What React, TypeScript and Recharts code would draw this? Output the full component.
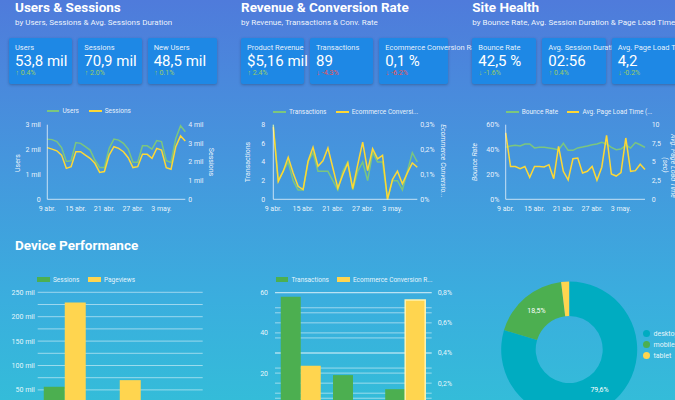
import React from 'react'
import {
  Bar,
  BarChart,
  CartesianGrid,
  Cell,
  Line,
  LineChart,
  Pie,
  PieChart,
  XAxis,
  YAxis,
} from 'recharts'

const FONT = 'Roboto, "Noto Sans", sans-serif'
const LINE_GREEN = '#7cc67e'
const LINE_YELLOW = '#fdd835'
const BAR_GREEN = '#4caf50'
const BAR_YELLOW = '#ffd54f'
const TEAL = '#00acc1'
const TXT = 'rgba(255,255,255,0.9)'
const AXIS = 'rgba(255,255,255,0.7)'
const GRID = 'rgba(255,255,255,0.5)'

// daily series, 9 abr. - 8 may.
const days = [
  '9 abr.', '10 abr.', '11 abr.', '12 abr.', '13 abr.', '14 abr.', '15 abr.', '16 abr.',
  '17 abr.', '18 abr.', '19 abr.', '20 abr.', '21 abr.', '22 abr.', '23 abr.', '24 abr.',
  '25 abr.', '26 abr.', '27 abr.', '28 abr.', '29 abr.', '30 abr.', '1 may.', '2 may.',
  '3 may.', '4 may.', '5 may.', '6 may.', '7 may.', '8 may.',
]
const users = [
  2420, 2400, 2320, 2080, 1520, 1550, 2280, 2250, 2120, 1980, 1580, 1280, 1280, 2050, 2420,
  2380, 2250, 2020, 1490, 1490, 2150, 2150, 2020, 2360, 2320, 1550, 1480, 2450, 2960, 2720,
]
const sessions = [
  2770, 2690, 2600, 2370, 1660, 1750, 2550, 2550, 2370, 2200, 1930, 1440, 1490, 2370, 2820,
  2730, 2550, 2230, 1700, 1750, 2410, 2410, 2200, 2730, 2640, 1700, 1610, 2820, 3400, 3120,
]
const transactions = [8, 2, 3, 4, 2, 1, 1, 4, 5, 3, 3, 3, 2, 1, 3, 4, 1, 3, 4, 2, 5, 4, 4, 0, 2, 2, 1, 3, 5, 4]
const convRate = [
  0.29, 0.072, 0.113, 0.169, 0.106, 0.052, 0.039, 0.153, 0.209, 0.133, 0.155, 0.206, 0.126, 0.045,
  0.099, 0.146, 0.043, 0.139, 0.23, 0.115, 0.203, 0.163, 0.177, 0, 0.079, 0.113, 0.062, 0.106,
  0.146, 0.129,
]
const bounceRate = [
  41.8, 42.9, 43.5, 42.9, 44.5, 44.5, 41.3, 41.8, 41.8, 41.3, 40.7, 39.7, 45, 39.4, 39.4, 41.3,
  42, 42.9, 43.9, 44.5, 45.9, 44.5, 41.8, 39.9, 40.4, 43.5, 41.3, 45.6, 43.9, 41.8,
]
const loadTime = [
  8.9, 4.4, 4.4, 4.1, 4.4, 2.95, 4.4, 4.4, 4.33, 4.64, 2.76, 7.1, 3.75, 2.59, 5.44, 5.54, 3.53,
  3.75, 4.4, 2.55, 4.3, 8.58, 3.39, 3.12, 3.57, 8.22, 3.75, 3.84, 4.7, 4.0,
]

// device breakdown
const devices = ['desktop', 'mobile', 'tablet']
const deviceSessions = [56400, 13100, 1350]
const devicePageviews = [229000, 70000, 6000]
const deviceTransactions = [58, 19, 12]
const deviceConvRate = [0.315, 0.08, 0.752]
const deviceShare = [79.6, 18.5, 1.9]
const deviceColors = [TEAL, BAR_GREEN, BAR_YELLOW]

// scorecards
const kpiUsers = [
  { label: 'Users', value: '53,8 mil', change: '0.4%', up: true, good: true },
  { label: 'Sessions', value: '70,9 mil', change: '2.0%', up: true, good: true },
  { label: 'New Users', value: '48,5 mil', change: '0.1%', up: true, good: true },
]
const kpiRevenue = [
  { label: 'Product Revenue', value: '$5,16 mil', change: '2.4%', up: true, good: true },
  { label: 'Transactions', value: '89', change: '-4.3%', up: false, good: false },
  { label: 'Ecommerce Conversion Rate', value: '0,1 %', change: '-6.2%', up: false, good: false },
]
const kpiHealth = [
  { label: 'Bounce Rate', value: '42,5 %', change: '-1.6%', up: false, good: true },
  { label: 'Avg. Session Duration', value: '02:56', change: '0.4%', up: true, good: true },
  { label: 'Avg. Page Load Time (sec)', value: '4,2', change: '-0.2%', up: false, good: true },
]

const lineData = days.map((day, i) => ({
  day,
  users: users[i],
  sessions: sessions[i],
  transactions: transactions[i],
  conv: convRate[i],
  bounce: bounceRate[i],
  load: loadTime[i],
}))

const deviceData = devices.map((device, i) => ({
  device,
  sessions: deviceSessions[i],
  pageviews: devicePageviews[i],
  transactions: deviceTransactions[i],
  conv: deviceConvRate[i],
}))

const pieData = devices.map((name, i) => ({ name, value: deviceShare[i] }))

const comma = (v: number) => String(v).replace('.', ',')
const mil = (v: number) => (v === 0 ? '0' : `${comma(v / 1000)} mil`)
const pct = (v: number) => (v === 0 ? '0%' : `${comma(v)}%`)

const tick = { fontSize: 7, fill: TXT, fontFamily: FONT }

// plain svg tick so short labels never wrap
const yTick = (fmt: (v: number, i: number) => string) => (p: any) => (
  <text
    x={p.x}
    y={p.y}
    dy="0.355em"
    textAnchor={p.textAnchor}
    fill={TXT}
    fontSize={7}
    fontFamily={FONT}
  >
    {fmt(p.payload.value, p.index)}
  </text>
)

function Abs({ x, y, style, children }: any) {
  return <div style={{ position: 'absolute', left: x, top: y, whiteSpace: 'nowrap', ...style }}>{children}</div>
}

function Rot({ x, y, angle, italic, children }: any) {
  return (
    <div
      style={{
        position: 'absolute',
        left: x,
        top: y,
        transform: `translate(-50%, -50%) rotate(${angle}deg)`,
        whiteSpace: 'nowrap',
        fontSize: 7,
        color: TXT,
        fontStyle: italic ? 'italic' : 'normal',
      }}
    >
      {children}
    </div>
  )
}

function Kpi({ x, w, item }: any) {
  const col = item.good ? '#9ccc65' : '#ef5350'
  return (
    <div
      style={{
        position: 'absolute',
        left: x,
        top: 37.7,
        width: w,
        height: 46.3,
        background: '#1e88e5',
        borderRadius: 2,
        boxShadow: '0 1px 3px rgba(0,0,0,0.25)',
        color: '#fff',
      }}
    >
      <Abs x={6} y={6.3} style={{ fontSize: 7.5, lineHeight: 1, color: 'rgba(255,255,255,0.9)' }}>
        {item.label}
      </Abs>
      <Abs x={6} y={16} style={{ fontSize: 15, lineHeight: 1 }}>
        {item.value}
      </Abs>
      <Abs x={6.5} y={32.2} style={{ fontSize: 7, lineHeight: 1, color: col }}>
        <b>{item.up ? '↑' : '↓'}</b> {item.change}
      </Abs>
    </div>
  )
}

function LegendRow({ y, items, swatch }: any) {
  return (
    <>
      {items.map((it: any) => (
        <div
          key={it.name}
          style={{ position: 'absolute', left: it.x, top: y - 4, height: 8, display: 'flex', alignItems: 'center', whiteSpace: 'nowrap' }}
        >
          <div
            style={{
              width: 12.7,
              height: swatch ? 5.7 : 2,
              background: it.color,
              marginRight: 3,
            }}
          />
          <span style={{ fontSize: 6.5, color: TXT }}>{it.name}</span>
        </div>
      ))}
    </>
  )
}

function Trend({ x, y, w, h, margin, left, right }: any) {
  return (
    <div style={{ position: 'absolute', left: x, top: y }}>
      <LineChart width={w} height={h} data={lineData} margin={margin}>
        <XAxis
          dataKey="day"
          interval={5}
          tick={tick}
          tickLine={false}
          tickSize={6}
          tickMargin={0.5}
          height={16}
          stroke={AXIS}
        />
        <YAxis
          yAxisId="l"
          domain={left.domain}
          ticks={left.ticks}
          tick={yTick(left.fmt)}
          interval={0}
          width={30}
          tickLine={false}
          tickSize={0}
          tickMargin={left.gap}
          stroke={AXIS}
        />
        <YAxis
          yAxisId="r"
          orientation="right"
          domain={right.domain}
          ticks={right.ticks}
          tick={yTick(right.fmt)}
          interval={0}
          width={30}
          tickLine={false}
          axisLine={false}
          tickSize={0}
          tickMargin={right.gap}
        />
        <Line yAxisId="l" dataKey={left.key} type="linear" stroke={LINE_GREEN} strokeWidth={1.5} dot={false} isAnimationActive={false} />
        <Line yAxisId="r" dataKey={right.key} type="linear" stroke={LINE_YELLOW} strokeWidth={1.5} dot={false} isAnimationActive={false} />
      </LineChart>
    </div>
  )
}

const renderPieLabel = ({ cx, cy, midAngle, innerRadius, outerRadius, value }: any) => {
  if (value < 5) return null
  const r = (innerRadius + outerRadius) / 2
  const a = (-midAngle * Math.PI) / 180
  return (
    <text
      x={cx + r * Math.cos(a)}
      y={cy + r * Math.sin(a)}
      fill="#fff"
      fontSize={7}
      fontFamily={FONT}
      textAnchor="middle"
      dominantBaseline="central"
    >
      {comma(value)}%
    </text>
  )
}

export default function App() {
  const title = { fontSize: 13.5, fontWeight: 700, color: '#fff', lineHeight: 1 }
  const sub = { fontSize: 8, color: 'rgba(255,255,255,0.92)', lineHeight: 1 }
  return (
    <div
      style={{
        position: 'fixed',
        left: 0,
        top: 0,
        width: 675,
        height: 400,
        overflow: 'hidden',
        fontFamily: FONT,
        background: 'linear-gradient(180deg, #4f7bdb 0%, #4596dd 40%, #3aaede 75%, #34bcd9 100%)',
      }}
    >
      {/* section headers */}
      <Abs x={15} y={1.2} style={title}>Users &amp; Sessions</Abs>
      <Abs x={15} y={19.4} style={sub}>by Users, Sessions &amp; Avg. Sessions Duration</Abs>
      <Abs x={241} y={1.2} style={title}>Revenue &amp; Conversion Rate</Abs>
      <Abs x={241} y={19.4} style={sub}>by Revenue, Transactions &amp; Conv. Rate</Abs>
      <Abs x={472.3} y={1.2} style={title}>Site Health</Abs>
      <Abs x={472.3} y={19.4} style={sub}>by Bounce Rate, Avg. Session Duration &amp; Page Load Time</Abs>
      <Abs x={15} y={238.7} style={title}>Device Performance</Abs>

      {/* scorecards */}
      <Kpi x={9} w={63.3} item={kpiUsers[0]} />
      <Kpi x={78.3} w={63.3} item={kpiUsers[1]} />
      <Kpi x={147.7} w={69.6} item={kpiUsers[2]} />
      <Kpi x={241} w={63.3} item={kpiRevenue[0]} />
      <Kpi x={310} w={63.3} item={kpiRevenue[1]} />
      <Kpi x={379.3} w={69} item={kpiRevenue[2]} />
      <Kpi x={472.3} w={63.7} item={kpiHealth[0]} />
      <Kpi x={542.3} w={63.3} item={kpiHealth[1]} />
      <Kpi x={611.7} w={69} item={kpiHealth[2]} />

      {/* trend charts */}
      <LegendRow
        y={111}
        items={[
          { name: 'Users', color: LINE_GREEN, x: 46.7 },
          { name: 'Sessions', color: LINE_YELLOW, x: 89 },
        ]}
      />
      <Trend
        x={0}
        y={100}
        w={230}
        h={120}
        margin={{ top: 24.7, right: 14.7, bottom: 4.7, left: 17.3 }}
        left={{ key: 'users', domain: [0, 3000], ticks: [0, 1000, 2000, 3000], fmt: mil, gap: 6.5 }}
        right={{ key: 'sessions', domain: [0, 4000], ticks: [0, 1000, 2000, 3000, 4000], fmt: mil, gap: 3 }}
      />
      <Rot x={18.3} y={163} angle={-90}>Users</Rot>
      <Rot x={210.7} y={162} angle={90}>Sessions</Rot>

      <LegendRow
        y={111.7}
        items={[
          { name: 'Transactions', color: LINE_GREEN, x: 273.3 },
          { name: 'Ecommerce Conversi...', color: LINE_YELLOW, x: 336 },
        ]}
      />
      <Trend
        x={230}
        y={100}
        w={230}
        h={120}
        margin={{ top: 24.7, right: 12.7, bottom: 4.7, left: 13.3 }}
        left={{ key: 'transactions', domain: [0, 8], ticks: [0, 2, 4, 6, 8], fmt: String, gap: 8 }}
        right={{ key: 'conv', domain: [0, 0.3], ticks: [0, 0.1, 0.2, 0.3], fmt: pct, gap: 3 }}
      />
      <Rot x={248} y={162} angle={-90}>Transactions</Rot>
      <Rot x={443.3} y={161} angle={90} italic>Ecommerce Conversio...</Rot>

      <LegendRow
        y={111.7}
        items={[
          { name: 'Bounce Rate', color: LINE_GREEN, x: 506 },
          { name: 'Avg. Page Load Time (...', color: LINE_YELLOW, x: 566.7 },
        ]}
      />
      <Trend
        x={460}
        y={100}
        w={215}
        h={120}
        margin={{ top: 24.7, right: 0, bottom: 4.7, left: 15.7 }}
        left={{ key: 'bounce', domain: [0, 60], ticks: [0, 20, 40, 60], fmt: (v: number) => `${v}%`, gap: 6.4 }}
        right={{ key: 'load', domain: [0, 10], ticks: [0, 2.5, 5, 7.5, 10], fmt: comma, gap: 6.7 }}
      />
      <Rot x={475} y={162} angle={-90} italic>Bounce Rate</Rot>
      <Rot x={665} y={165} angle={90} italic>(sec)</Rot>
      <Rot x={673} y={166} angle={90} italic>Avg. Page Load Time</Rot>

      {/* device bars: sessions / pageviews */}
      <LegendRow
        y={279.5}
        swatch
        items={[
          { name: 'Sessions', color: BAR_GREEN, x: 37.3 },
          { name: 'Pageviews', color: BAR_YELLOW, x: 88.3 },
        ]}
      />
      <div style={{ position: 'absolute', left: 0, top: 270 }}>
        <BarChart
          width={230}
          height={160}
          data={deviceData}
          margin={{ top: 22.3, right: 27.3, bottom: 0, left: 5.7 }}
          barGap={0}
          barCategoryGap="11%"
        >
          <CartesianGrid vertical={false} stroke={GRID} />
          <XAxis dataKey="device" height={15.7} tick={tick} tickLine={false} axisLine={false} />
          <YAxis
            domain={[0, 250000]}
            ticks={[0, 25000, 50000, 75000, 100000, 125000, 150000, 175000, 200000, 225000, 250000]}
            tick={yTick((v: number) => (v % 50000 === 0 ? mil(v) : ''))}
            interval={0}
            width={32}
            tickLine={false}
            axisLine={false}
            tickSize={0}
            tickMargin={3}
          />
          <Bar dataKey="sessions" fill={BAR_GREEN} isAnimationActive={false} />
          <Bar dataKey="pageviews" fill={BAR_YELLOW} isAnimationActive={false} />
        </BarChart>
      </div>

      {/* device bars: transactions / conversion */}
      <LegendRow
        y={279.5}
        swatch
        items={[
          { name: 'Transactions', color: BAR_GREEN, x: 275.7 },
          { name: 'Ecommerce Conversion R...', color: BAR_YELLOW, x: 337.3 },
        ]}
      />
      <div style={{ position: 'absolute', left: 230, top: 270 }}>
        <BarChart
          width={230}
          height={160}
          data={deviceData}
          margin={{ top: 22.7, right: 2.3, bottom: 0, left: 15 }}
          barGap={0}
          barCategoryGap="11%"
        >
          <CartesianGrid vertical={false} stroke={GRID} yAxisId="l" />
          <CartesianGrid vertical={false} stroke={GRID} yAxisId="r" />
          <XAxis dataKey="device" height={16.7} tick={tick} tickLine={false} axisLine={false} />
          <YAxis
            yAxisId="l"
            domain={[0, 60]}
            ticks={[0, 10, 20, 30, 40, 50, 60]}
            tick={yTick((v: number) => (v % 20 === 0 ? String(v) : ''))}
            interval={0}
            width={30}
            tickLine={false}
            axisLine={false}
            tickSize={0}
            tickMargin={7}
          />
          <YAxis
            yAxisId="r"
            orientation="right"
            domain={[0, 0.8]}
            ticks={[0, 0.1, 0.2, 0.3, 0.4, 0.5, 0.6, 0.7, 0.8]}
            tick={yTick((v: number, i: number) => (i % 2 === 0 ? pct(v) : ''))}
            interval={0}
            width={26}
            tickLine={false}
            axisLine={false}
            tickSize={0}
            tickMargin={6}
          />
          <Bar yAxisId="l" dataKey="transactions" fill={BAR_GREEN} isAnimationActive={false} />
          <Bar yAxisId="r" dataKey="conv" fill={BAR_YELLOW} isAnimationActive={false}>
            {deviceData.map((d, i) => (
              <Cell
                key={d.device}
                fill={BAR_YELLOW}
                stroke={i === 2 ? '#fff3b0' : 'none'}
                strokeWidth={i === 2 ? 1.5 : 0}
              />
            ))}
          </Bar>
        </BarChart>
      </div>

      {/* device share donut */}
      <div style={{ position: 'absolute', left: 460, top: 260 }}>
        <PieChart width={215} height={170}>
          <Pie
            data={pieData}
            dataKey="value"
            nameKey="name"
            cx={104.2}
            cy={84.5}
            innerRadius={33.5}
            outerRadius={68}
            startAngle={90}
            endAngle={-270}
            stroke="none"
            label={renderPieLabel}
            labelLine={false}
            isAnimationActive={false}
          >
            {pieData.map((d, i) => (
              <Cell key={d.name} fill={deviceColors[i]} />
            ))}
          </Pie>
        </PieChart>
      </div>
      {devices.map((d, i) => (
        <div
          key={d}
          style={{ position: 'absolute', left: 642.5, top: 329.7 + i * 11, height: 8, display: 'flex', alignItems: 'center' }}
        >
          <div style={{ width: 7, height: 7, borderRadius: '50%', background: deviceColors[i], marginRight: 4 }} />
          <span style={{ fontSize: 7, color: TXT }}>{d}</span>
        </div>
      ))}
    </div>
  )
}
